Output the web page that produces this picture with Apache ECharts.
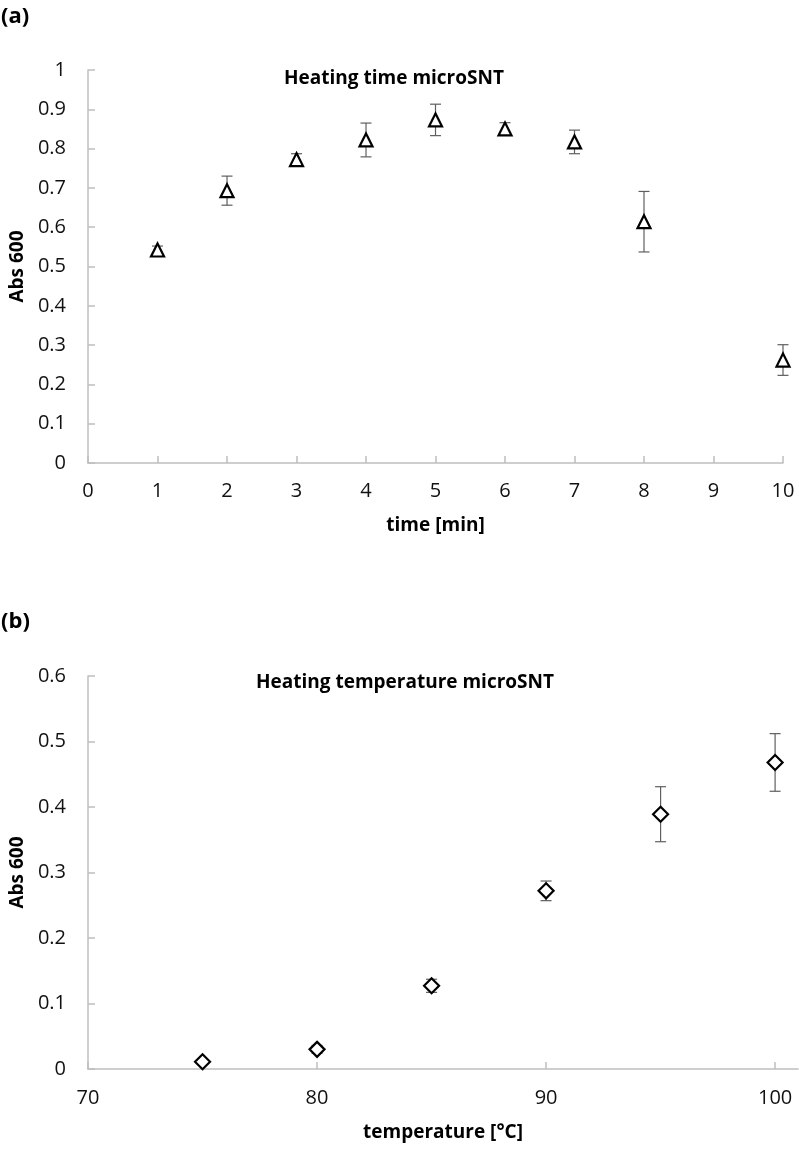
<!DOCTYPE html>
<html>
<head>
<meta charset="utf-8">
<script src="https://cdn.jsdelivr.net/npm/echarts@6/dist/echarts.min.js"></script>
<style>html,body{margin:0;padding:0;background:#fff}#c{width:799px;height:1150px}</style>
</head>
<body>
<div id="c"></div>
<script>
// Panel (a): heating time
const timeX = [1, 2, 3, 4, 5, 6, 7, 8, 10];
const timeY = [0.542, 0.693, 0.772, 0.822, 0.873, 0.850, 0.817, 0.614, 0.262];
const timeErr = [0.010, 0.037, 0.015, 0.043, 0.040, 0.016, 0.030, 0.077, 0.039];
// Panel (b): heating temperature
const tempX = [75, 80, 85, 90, 95, 100];
const tempY = [0.011, 0.030, 0.127, 0.272, 0.389, 0.468];
const tempErr = [0.003, 0.006, 0.010, 0.015, 0.042, 0.044];
const tempTicks = [70, 80, 90, 100];

const FONT = 'Open Sans';
const axisColor = '#bfbfbf';
const textColor = '#111';
const LABEL_SIZE = 20;
const NAME_SIZE = 19;

function errSeries(xs, ys, es, idx) {
  return {
    type: 'custom', xAxisIndex: idx, yAxisIndex: idx, z: 2,
    data: xs.map((x, i) => [x, ys[i] - es[i], ys[i] + es[i]]),
    renderItem: function (params, api) {
      const lo = api.coord([api.value(0), api.value(1)]);
      const hi = api.coord([api.value(0), api.value(2)]);
      const w = 5.5;
      const st = { stroke: '#5f5f5f', lineWidth: 1.2 };
      return {
        type: 'group', children: [
          { type: 'line', shape: { x1: lo[0], y1: lo[1], x2: hi[0], y2: hi[1] }, style: st },
          { type: 'line', shape: { x1: lo[0] - w, y1: lo[1], x2: lo[0] + w, y2: lo[1] }, style: st },
          { type: 'line', shape: { x1: hi[0] - w, y1: hi[1], x2: hi[0] + w, y2: hi[1] }, style: st }
        ]
      };
    }
  };
}

function baseAxis(extra) {
  return Object.assign({
    axisLine: { show: true, lineStyle: { color: axisColor, width: 1.5 } },
    axisTick: { show: true, inside: true, length: 7, lineStyle: { color: axisColor, width: 1.5 } },
    splitLine: { show: false },
    axisLabel: { color: textColor, fontFamily: FONT, fontSize: LABEL_SIZE },
    nameTextStyle: { color: '#000', fontFamily: FONT, fontSize: NAME_SIZE, fontWeight: 'bold' }
  }, extra);
}

const option = {
  backgroundColor: '#fff',
  animation: false,
  grid: [
    { left: 87, top: 70, width: 696, height: 393 },
    { left: 87, top: 676, width: 711, height: 393 }
  ],
  xAxis: [
    baseAxis({ type: 'value', gridIndex: 0, min: 0, max: 10, interval: 1,
      name: 'time [min]', nameLocation: 'middle', nameGap: 53,
      axisLabel: { color: textColor, fontFamily: FONT, fontSize: LABEL_SIZE, margin: 18 } }),
    baseAxis({ type: 'value', gridIndex: 1, min: 70, max: 101, interval: 10,
      name: 'temperature [°C]', nameLocation: 'middle', nameGap: 54,
      axisTick: { show: true, inside: true, length: 7, customValues: tempTicks, lineStyle: { color: axisColor, width: 1.5 } },
      axisLabel: { color: textColor, fontFamily: FONT, fontSize: LABEL_SIZE, margin: 19, customValues: tempTicks } })
  ],
  yAxis: [
    baseAxis({ type: 'value', gridIndex: 0, min: 0, max: 1, interval: 0.1,
      name: 'Abs 600', nameLocation: 'middle', nameGap: 61, nameRotate: 90,
      axisLabel: { color: textColor, fontFamily: FONT, fontSize: LABEL_SIZE, margin: 22 } }),
    baseAxis({ type: 'value', gridIndex: 1, min: 0, max: 0.6, interval: 0.1,
      name: 'Abs 600', nameLocation: 'middle', nameGap: 61, nameRotate: 90,
      axisLabel: { color: textColor, fontFamily: FONT, fontSize: LABEL_SIZE, margin: 22 } })
  ],
  graphic: [
    { type: 'text', x: 1, y: 17, style: { text: '(a)', font: 'bold 22px "Open Sans"', fill: '#000', verticalAlign: 'middle' } },
    { type: 'text', x: 1, y: 622, style: { text: '(b)', font: 'bold 22px "Open Sans"', fill: '#000', verticalAlign: 'middle' } },
    { type: 'text', x: 394, y: 79, style: { text: 'Heating time microSNT', font: 'bold 19px "Open Sans"', fill: '#000', align: 'center', verticalAlign: 'middle' } },
    { type: 'text', x: 405, y: 683, style: { text: 'Heating temperature microSNT', font: 'bold 19px "Open Sans"', fill: '#000', align: 'center', verticalAlign: 'middle' } }
  ],
  series: [
    errSeries(timeX, timeY, timeErr, 0),
    { type: 'scatter', xAxisIndex: 0, yAxisIndex: 0, z: 3,
      data: timeX.map((x, i) => [x, timeY[i]]),
      symbol: 'triangle', symbolSize: 13,
      itemStyle: { color: '#fff', borderColor: '#000', borderWidth: 2.2, opacity: 1 } },
    errSeries(tempX, tempY, tempErr, 1),
    { type: 'scatter', xAxisIndex: 1, yAxisIndex: 1, z: 3,
      data: tempX.map((x, i) => [x, tempY[i]]),
      symbol: 'diamond', symbolSize: [15, 15],
      itemStyle: { color: '#fff', borderColor: '#000', borderWidth: 2.2, opacity: 1 } }
  ]
};

const chart = echarts.init(document.getElementById('c'), null, { renderer: 'canvas' });
chart.setOption(option);
</script>
</body>
</html>
